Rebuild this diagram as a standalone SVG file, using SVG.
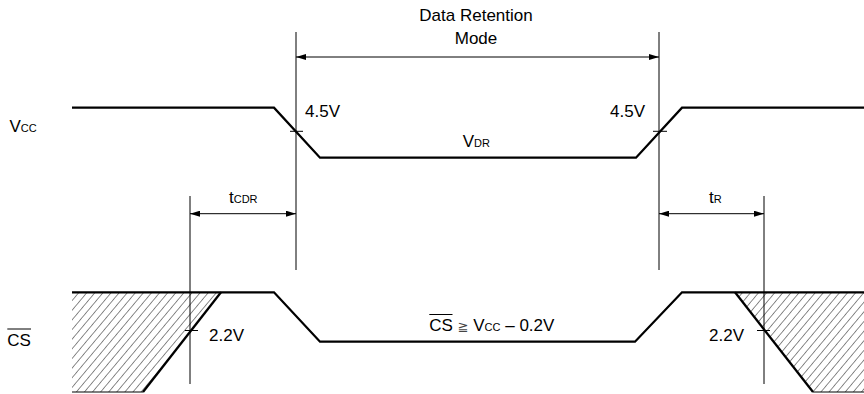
<svg xmlns="http://www.w3.org/2000/svg" width="864" height="394" viewBox="0 0 864 394">
<style>
text{font-family:"Liberation Sans","DejaVu Sans",Arial,sans-serif;font-size:17px;fill:#000}
.sub{font-size:11px}
.sig{fill:none;stroke:#000;stroke-width:2.3;stroke-linejoin:miter}
.thin{fill:none;stroke:#000;stroke-width:1}
.hatchfill{fill:url(#hatch);stroke:none}
</style>
<defs>
<pattern id="hatch" patternUnits="userSpaceOnUse" width="6.2" height="10" patternTransform="rotate(40)">
<line x1="0" y1="0" x2="0" y2="10" stroke="#000" stroke-width="0.9"/>
</pattern>
<marker id="arr" viewBox="0 0 10 6" refX="10" refY="3" markerWidth="10" markerHeight="6" markerUnits="userSpaceOnUse" orient="auto-start-reverse">
<path d="M0,0 L10,3 L0,6 Z" fill="#000"/>
</marker>
</defs>
<g id="labels">
<text x="9.5" y="131.5">V<tspan class="sub">CC</tspan></text>
<text x="7.3" y="346">CS</text>
<line x1="7.3" y1="329" x2="31" y2="329" class="thin"/>
</g>
<g id="vcc">
<polyline class="sig" points="72,107.7 274,107.7 320,157.7 636,157.7 682,107.7 864,107.7"/>
</g>
<g id="cs-hatch">
<polygon class="hatchfill" points="72,292.3 221,292.3 143,392 72,392"/>
<polygon class="hatchfill" points="735,292.3 864,292.3 864,392 813,392"/>
<line class="thin" x1="72" y1="392" x2="143" y2="392"/>
<line class="thin" x1="813" y1="392" x2="864" y2="392"/>
<line class="sig" x1="221" y1="292.3" x2="143" y2="392"/>
<line class="sig" x1="735" y1="292.3" x2="813" y2="392"/>
</g>
<g id="cs">
<polyline class="sig" points="72,292.3 274,292.3 320,341.7 635,341.7 682,292.3 864,292.3"/>
</g>
<g id="connectors">
<line class="thin" x1="296" y1="32" x2="296" y2="270"/>
<line class="thin" x1="659" y1="32" x2="659" y2="270"/>
<line class="thin" x1="190" y1="196" x2="190" y2="384"/>
<line class="thin" x1="764" y1="196" x2="764" y2="384"/>
<line class="thin" x1="296" y1="57" x2="659" y2="57" marker-start="url(#arr)" marker-end="url(#arr)"/>
<line class="thin" x1="190" y1="213.7" x2="296" y2="213.7" marker-start="url(#arr)" marker-end="url(#arr)"/>
<line class="thin" x1="659" y1="213.7" x2="764" y2="213.7" marker-start="url(#arr)" marker-end="url(#arr)"/>
<line class="thin" x1="290" y1="131.3" x2="303" y2="131.3"/>
<line class="thin" x1="653" y1="131.3" x2="667" y2="131.3"/>
<line class="thin" x1="185" y1="330.5" x2="198" y2="330.5"/>
<line class="thin" x1="757" y1="330.5" x2="770" y2="330.5"/>
</g>
<g id="text-retention">
<text x="476" y="20.7" text-anchor="middle">Data Retention</text>
<text x="476" y="44.3" text-anchor="middle">Mode</text>
</g>
<g id="text-levels">
<text x="305" y="117.3">4.5V</text>
<text x="610" y="117.3">4.5V</text>
<text x="462.7" y="146.7">V<tspan class="sub">DR</tspan></text>
<text x="209" y="341">2.2V</text>
<text x="709" y="341">2.2V</text>
</g>
<g id="text-timing">
<text x="229" y="203.3">t<tspan class="sub">CDR</tspan></text>
<text x="709" y="203.3">t<tspan class="sub">R</tspan></text>
</g>
<g id="text-cs-cond">
<text x="429.3" y="330.5">CS <tspan font-family="DejaVu Sans" font-size="13" fill="#444">≧</tspan> V<tspan class="sub">CC</tspan> – 0.2V</text>
<line class="thin" x1="429.3" y1="314.5" x2="452.5" y2="314.5"/>
</g>
</svg>
